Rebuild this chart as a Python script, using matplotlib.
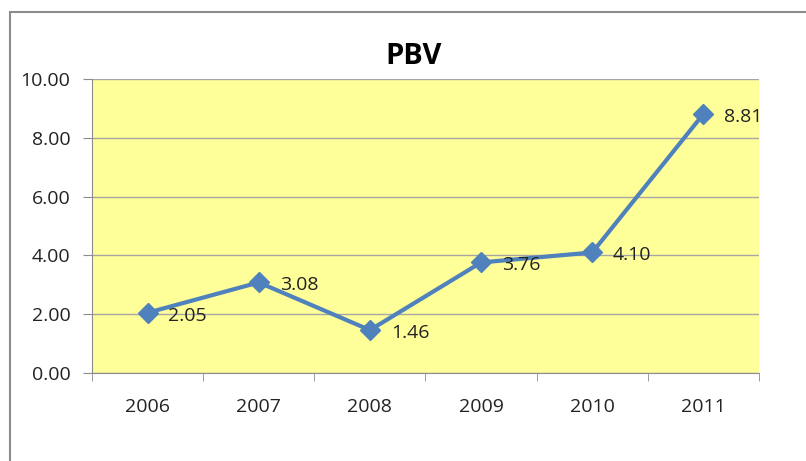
import matplotlib.pyplot as plt
from matplotlib.patches import Rectangle

years = ["2006", "2007", "2008", "2009", "2010", "2011"]
pbv = [2.05, 3.08, 1.46, 3.76, 4.10, 8.81]
yticks = [0, 2, 4, 6, 8, 10]

plt.rcParams["font.family"] = ["Open Sans", "DejaVu Sans"]

fig = plt.figure(figsize=(8.06, 4.61), dpi=100)
ax = fig.add_axes([92 / 806, 1 - 373 / 461, 667 / 806, 294 / 461])

# chart frame (clipped at right/bottom like the reference)
fig.patches.append(Rectangle((10 / 806, -0.1), 1.0, 1 - 12 / 461 + 0.1,
                             transform=fig.transFigure, fill=False,
                             edgecolor="#8c8c8c", lw=1.5))

ax.set_facecolor("#ffff99")
x = list(range(len(years)))
ax.plot(x, pbv, color="#4f81bd", lw=3, marker="D", ms=10, zorder=3)
for xi, v in zip(x, pbv):
    ax.annotate(f"{v:.2f}", (xi, v), xytext=(15, -2), textcoords="offset points",
                ha="left", va="center", fontsize=14, color="#222222")

ax.set_xlim(-0.5, 5.5)
ax.set_ylim(0, 10)
ax.set_yticks(yticks)
ax.set_yticklabels([f"{t:.2f}" for t in yticks], fontsize=14, color="#222222")
ax.set_xticks(x)
ax.set_xticklabels(years, fontsize=14, color="#222222")
ax.tick_params(axis="x", length=0, pad=18)
ax.set_xticks([i - 0.5 for i in range(len(years) + 1)], minor=True)
ax.tick_params(axis="x", which="minor", length=6, color="#8c8c8c")
ax.tick_params(axis="y", length=6.5, color="#8c8c8c", pad=9)
ax.grid(axis="y", color="#a6a6a6", lw=1)
ax.set_axisbelow(True)
for s in ["top", "right"]:
    ax.spines[s].set_visible(False)
for s in ["left", "bottom"]:
    ax.spines[s].set_color("#8c8c8c")

fig.text(414 / 806, 1 - 56 / 461, "PBV", fontsize=21, fontweight="bold",
         ha="center", va="center")

fig.savefig("out.png", dpi=100)
